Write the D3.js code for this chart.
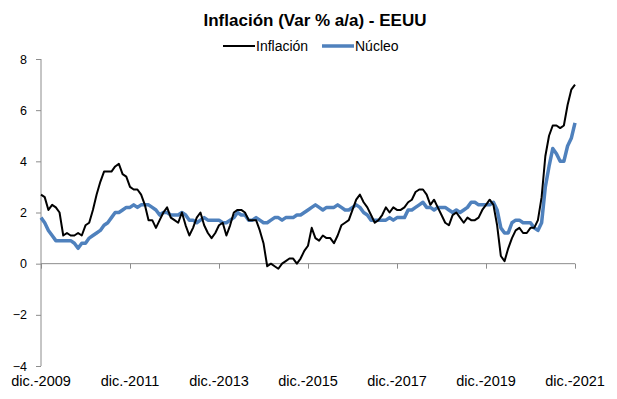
<!DOCTYPE html>
<html>
<head>
<meta charset="utf-8">
<script src="https://cdn.jsdelivr.net/npm/d3@7"></script>
<style>
  body { margin: 0; background: #fff; }
  svg { display: block; font-family: "Liberation Sans", Arial, sans-serif; }
</style>
</head>
<body>
<svg id="chart" width="617" height="399"></svg>
<script>
// Monthly YoY % change, dic.-2009 .. dic.-2021
const inflacion = [
  2.7,
  2.6, 2.1, 2.3, 2.2, 2.0, 1.1, 1.2, 1.1, 1.1, 1.2, 1.1, 1.5,
  1.6, 2.1, 2.7, 3.2, 3.6, 3.6, 3.6, 3.8, 3.9, 3.5, 3.4, 3.0,
  2.9, 2.9, 2.7, 2.3, 1.7, 1.7, 1.4, 1.7, 2.0, 2.2, 1.8, 1.7,
  1.6, 2.0, 1.5, 1.1, 1.4, 1.8, 2.0, 1.5, 1.2, 1.0, 1.2, 1.5,
  1.6, 1.1, 1.5, 2.0, 2.1, 2.1, 2.0, 1.7, 1.7, 1.7, 1.3, 0.8,
  -0.1, 0.0, -0.1, -0.2, 0.0, 0.1, 0.2, 0.2, 0.0, 0.2, 0.5, 0.7,
  1.4, 1.0, 0.9, 1.1, 1.0, 1.0, 0.8, 1.1, 1.5, 1.6, 1.7, 2.1,
  2.5, 2.7, 2.4, 2.2, 1.9, 1.6, 1.7, 1.9, 2.2, 2.0, 2.2, 2.1,
  2.1, 2.2, 2.4, 2.5, 2.8, 2.9, 2.9, 2.7, 2.3, 2.5, 2.2, 1.9,
  1.6, 1.5, 1.9, 2.0, 1.8, 1.6, 1.8, 1.7, 1.7, 1.8, 2.1, 2.3,
  2.5, 2.3, 1.5, 0.3, 0.1, 0.6, 1.0, 1.3, 1.4, 1.2, 1.2, 1.4,
  1.4, 1.7, 2.6, 4.2, 5.0, 5.4, 5.4, 5.3, 5.4, 6.2, 6.8, 7.0
];
const nucleo = [
  1.8,
  1.6, 1.3, 1.1, 0.9, 0.9, 0.9, 0.9, 0.9, 0.8, 0.6, 0.8, 0.8,
  1.0, 1.1, 1.2, 1.3, 1.5, 1.6, 1.8, 2.0, 2.0, 2.1, 2.2, 2.2,
  2.3, 2.2, 2.3, 2.3, 2.3, 2.2, 2.1, 1.9, 2.0, 2.0, 1.9, 1.9,
  1.9, 2.0, 1.9, 1.7, 1.7, 1.6, 1.7, 1.8, 1.7, 1.7, 1.7, 1.7,
  1.6, 1.6, 1.7, 1.8, 2.0, 1.9, 1.9, 1.7, 1.7, 1.8, 1.7, 1.6,
  1.6, 1.7, 1.8, 1.8, 1.7, 1.8, 1.8, 1.8, 1.9, 1.9, 2.0, 2.1,
  2.2, 2.3, 2.2, 2.1, 2.2, 2.2, 2.2, 2.3, 2.2, 2.1, 2.1, 2.2,
  2.3, 2.2, 2.0, 1.9, 1.7, 1.7, 1.7, 1.7, 1.7, 1.8, 1.7, 1.8,
  1.8, 1.8, 2.1, 2.1, 2.2, 2.3, 2.4, 2.2, 2.2, 2.1, 2.2, 2.2,
  2.2, 2.1, 2.0, 2.1, 2.0, 2.1, 2.2, 2.4, 2.4, 2.3, 2.3, 2.3,
  2.3, 2.4, 2.1, 1.4, 1.2, 1.2, 1.6, 1.7, 1.7, 1.6, 1.6, 1.6,
  1.4, 1.3, 1.6, 3.0, 3.8, 4.5, 4.3, 4.0, 4.0, 4.6, 4.9, 5.5
];
const xTickLabels = ["dic.-2009", "dic.-2011", "dic.-2013", "dic.-2015", "dic.-2017", "dic.-2019", "dic.-2021"];
const yTicks = [-4, -2, 0, 2, 4, 6, 8];
const seriesNames = ["Inflación", "Núcleo"];
const title = "Inflación (Var % a/a) - EEUU";

const svg = d3.select("#chart");
const margin = { top: 59, right: 42, bottom: 33, left: 41 };
const W = 617, H = 399;

const x = d3.scaleLinear().domain([0, inflacion.length - 1]).range([margin.left, W - margin.right]);
const y = d3.scaleLinear().domain([-4, 8]).range([H - margin.bottom, margin.top]);

const axisColor = "#8c8c8c";

// title
svg.append("text")
    .attr("x", 315).attr("y", 26)
    .attr("text-anchor", "middle")
    .style("font-size", "17px").style("font-weight", "bold")
    .attr("fill", "#000")
    .text(title);

// y axis
const yAxisG = svg.append("g")
    .attr("transform", `translate(${margin.left},0)`)
    .call(d3.axisLeft(y).tickValues(yTicks).tickSize(5).tickPadding(9).tickFormat(d3.format("d")));
yAxisG.selectAll("path, line").attr("stroke", axisColor);
yAxisG.select(".domain").attr("d", `M0,${y(-4)}V${y(8)}`);
yAxisG.selectAll("text").style("font-size", "12.5px").attr("fill", "#000")
    .style("font-family", "'Liberation Sans', Arial, sans-serif");

// x axis at zero line
const xTickIdx = xTickLabels.map((d, i) => i * 24);
const xAxisG = svg.append("g")
    .attr("transform", `translate(0,${y(0)})`)
    .call(d3.axisBottom(x).tickValues(xTickIdx).tickSize(5).tickFormat(() => ""));
xAxisG.selectAll("path, line").attr("stroke", axisColor);
xAxisG.select(".domain").attr("d", `M${x(0)},0H${x(inflacion.length - 1)}`);

// x labels at the bottom
svg.append("g").selectAll("text")
    .data(xTickLabels)
    .join("text")
    .attr("x", (d, i) => x(xTickIdx[i]))
    .attr("y", 386)
    .attr("text-anchor", "middle")
    .style("font-size", "14.5px")
    .attr("fill", "#000")
    .text(d => d);

// lines
const line = d3.line().x((d, i) => x(i)).y(d => y(d));

svg.append("path")
    .datum(nucleo)
    .attr("fill", "none")
    .attr("stroke", "#4f81bd")
    .attr("stroke-width", 3.5)
    .attr("stroke-linejoin", "round")
    .attr("d", line);

svg.append("path")
    .datum(inflacion)
    .attr("fill", "none")
    .attr("stroke", "#000")
    .attr("stroke-width", 2)
    .attr("stroke-linejoin", "round")
    .attr("d", line);

// legend
const legend = svg.append("g");
const legendItems = [
    { name: seriesNames[0], color: "#000", width: 2, x: 223 },
    { name: seriesNames[1], color: "#4f81bd", width: 3.5, x: 322 }
];
legendItems.forEach(it => {
    legend.append("line")
        .attr("x1", it.x).attr("x2", it.x + 32)
        .attr("y1", 46).attr("y2", 46)
        .attr("stroke", it.color).attr("stroke-width", it.width);
    legend.append("text")
        .attr("x", it.x + 33).attr("y", 51)
        .style("font-size", "14px")
        .attr("fill", "#000")
        .text(it.name);
});
</script>
</body>
</html>
